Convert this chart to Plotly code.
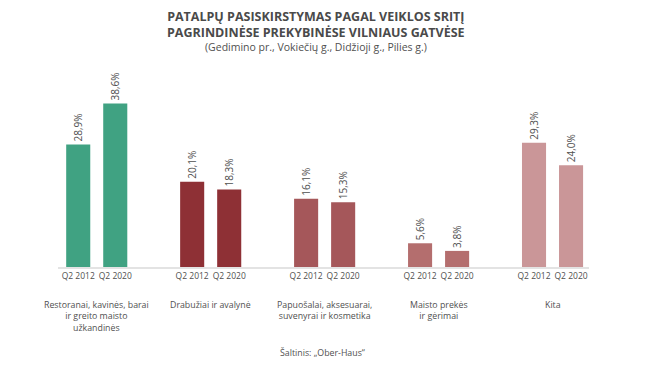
import plotly.graph_objects as go

categories = [
    "Restoranai, kavinės, barai<br>ir greito maisto<br>užkandinės",
    "Drabužiai ir avalynė",
    "Papuošalai, aksesuarai,<br>suvenyrai ir kosmetika",
    "Maisto prekės<br>ir gėrimai",
    "Kita",
]
periods = ["Q2 2012", "Q2 2020"]
values_2012 = [28.9, 20.1, 16.1, 5.6, 29.3]
values_2020 = [38.6, 18.3, 15.3, 3.8, 24.0]
cat_colors = ["#40a282", "#8e3035", "#a5575a", "#b46e6e", "#ca9698"]

title_lines = ["PATALPŲ PASISKIRSTYMAS PAGAL VEIKLOS SRITĮ",
               "PAGRINDINĖSE PREKYBINĖSE VILNIAUS GATVĖSE"]
subtitle = "(Gedimino pr., Vokiečių g., Didžioji g., Pilies g.)"
source = "Šaltinis: „Ober-Haus“"

FONT = "Open Sans"
BARGAP = 0.35
x_idx = list(range(len(categories)))

# page has an 8px body margin; figure is sized to fit the 650x366 window
W, H = 642, 358
ML, MT, PW, PH = 50, 81, 531, 178


def fmt(v):
    return f"{v:.1f}".replace(".", ",") + "%"


fig = go.Figure()
for vals in (values_2012, values_2020):
    fig.add_trace(go.Bar(
        x=x_idx, y=vals,
        marker=dict(color=cat_colors, line=dict(width=0)),
        text=[fmt(v) for v in vals],
        textposition="outside",
        textangle=-90,
        constraintext="none",
        cliponaxis=False,
        textfont=dict(family=FONT, size=10, color="#505050"),
        showlegend=False,
        hoverinfo="skip",
    ))

off = (1 - BARGAP) / 4
tickvals, ticktext = [], []
for i in x_idx:
    tickvals += [i - off, i + off]
    ticktext += periods

fig.update_layout(
    width=W, height=H,
    margin=dict(l=ML, r=W - ML - PW, t=MT, b=H - MT - PH),
    paper_bgcolor="white", plot_bgcolor="white",
    barmode="group", bargap=BARGAP, bargroupgap=BARGAP,
    font=dict(family=FONT, color="#505050"),
    xaxis=dict(range=[-0.34, 4.32], tickvals=tickvals, ticktext=ticktext,
               showline=True, linecolor="#e3e3e3", linewidth=2,
               showgrid=False, zeroline=False, ticks="",
               tickfont=dict(family=FONT, size=8.5, color="#505050")),
    yaxis=dict(range=[0, 42], visible=False, showgrid=False, zeroline=False),
)

for i, c in zip(x_idx, categories):
    fig.add_annotation(x=i, y=0, xref="x", yref="paper", yanchor="top",
                       yshift=-30, text=c, showarrow=False, align="center",
                       font=dict(family=FONT, size=8.8, color="#505050"))

title_x = (316 - 8 - ML) / PW
src_x = (322 - 8 - ML) / PW
fig.add_annotation(x=title_x, y=1, xref="paper", yref="paper",
                   yanchor="bottom", yshift=46, showarrow=False, align="center",
                   text="<b>" + "<br>".join(title_lines) + "</b>",
                   font=dict(family=FONT, size=12.5, color="#4a4a4a"))
fig.add_annotation(x=title_x, y=1, xref="paper", yref="paper",
                   yanchor="bottom", yshift=33, showarrow=False,
                   text=subtitle, font=dict(family=FONT, size=10.5, color="#505050"))
fig.add_annotation(x=src_x, y=0, xref="paper", yref="paper",
                   yanchor="top", yshift=-78, showarrow=False,
                   text=source, font=dict(family=FONT, size=8.8, color="#505050"))

fig.write_html("out.html")
